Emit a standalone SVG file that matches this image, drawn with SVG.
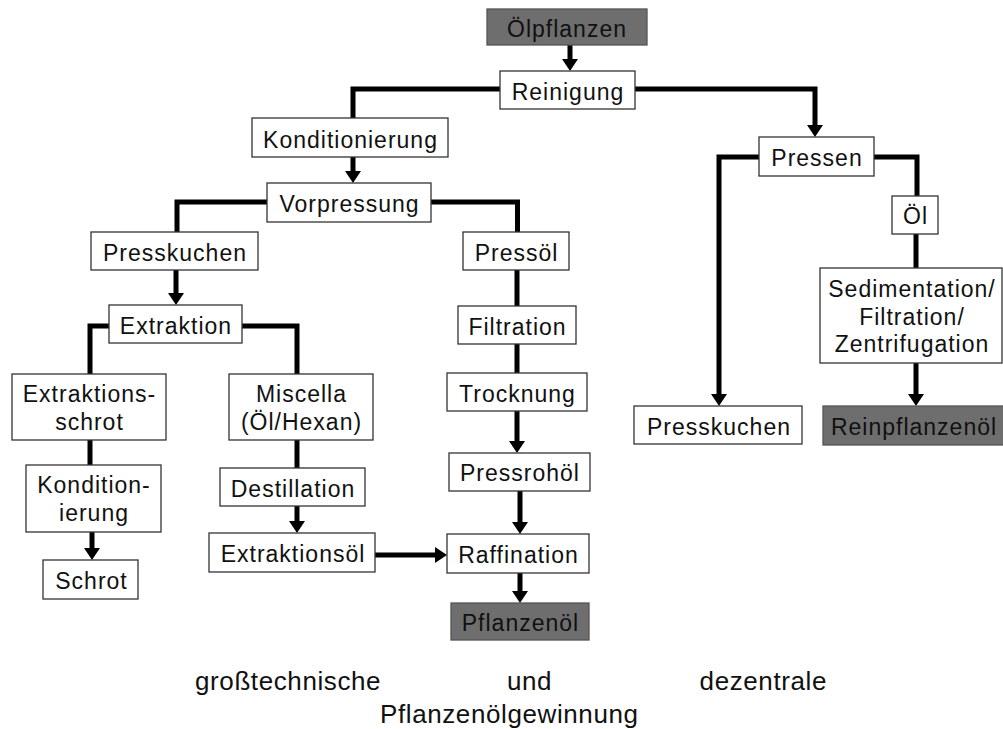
<svg xmlns="http://www.w3.org/2000/svg" width="1003" height="729" viewBox="0 0 1003 729">
<style>
  .box { fill: #ffffff; stroke: #333333; stroke-width: 1.3; }
  .dark { fill: #6e6e6e; stroke: #555555; stroke-width: 1.3; }
  .t { font-family: "Liberation Sans", Arial, sans-serif; font-size: 23px; letter-spacing: 1px; fill: #111111; text-anchor: middle; }
  .b { font-family: "Liberation Sans", Arial, sans-serif; font-size: 26px; letter-spacing: 0.6px; fill: #111111; }
  .c { fill: none; stroke: #000000; stroke-width: 5; stroke-linejoin: miter; stroke-linecap: butt; }
</style>
<defs>
  <marker id="ah" markerUnits="userSpaceOnUse" markerWidth="12" markerHeight="16" refX="0" refY="8" orient="auto" viewBox="0 0 12 16">
    <path d="M0,0 L12,8 L0,16 Z" fill="#000000"/>
  </marker>
</defs>
<rect width="1003" height="729" fill="#ffffff"/>

<g id="connectors">
  <path class="c" d="M570,45 V59" marker-end="url(#ah)"/>
  <path class="c" d="M500,89 H353 V118"/>
  <path class="c" d="M635,89 H815 V125" marker-end="url(#ah)"/>
  <path class="c" d="M353,157 V171" marker-end="url(#ah)"/>
  <path class="c" d="M267,202 H177 V232"/>
  <path class="c" d="M431,202 H517.5 V232"/>
  <path class="c" d="M176,270 V293" marker-end="url(#ah)"/>
  <path class="c" d="M109,326 H90 V374"/>
  <path class="c" d="M242,326 H297 V374"/>
  <path class="c" d="M90,440 V465"/>
  <path class="c" d="M92,532 V548" marker-end="url(#ah)"/>
  <path class="c" d="M297,440 V468"/>
  <path class="c" d="M297,506 V521" marker-end="url(#ah)"/>
  <path class="c" d="M375,555 H435" marker-end="url(#ah)"/>
  <path class="c" d="M517,270 V306"/>
  <path class="c" d="M517,344 V373"/>
  <path class="c" d="M517,411 V441" marker-end="url(#ah)"/>
  <path class="c" d="M520,491 V522" marker-end="url(#ah)"/>
  <path class="c" d="M520,573 V591" marker-end="url(#ah)"/>
  <path class="c" d="M759,157 H719 V394" marker-end="url(#ah)"/>
  <path class="c" d="M874,157 H917 V196"/>
  <path class="c" d="M916,234 V268"/>
  <path class="c" d="M916,363 V394" marker-end="url(#ah)"/>
</g>

<g id="oelpflanzen"><rect class="dark" x="487" y="9" width="160" height="36"/><text class="t" x="567" y="36.5">Ölpflanzen</text></g>
<g id="reinigung"><rect class="box" x="500" y="71" width="135" height="38"/><text class="t" x="568" y="99.5">Reinigung</text></g>
<g id="konditionierung"><rect class="box" x="252" y="118" width="196" height="39"/><text class="t" x="350.5" y="147.5">Konditionierung</text></g>
<g id="vorpressung"><rect class="box" x="267" y="183" width="164" height="39"/><text class="t" x="349.5" y="212">Vorpressung</text></g>
<g id="presskuchen-l"><rect class="box" x="91" y="232" width="167" height="38"/><text class="t" x="175" y="260.5">Presskuchen</text></g>
<g id="pressoel"><rect class="box" x="463" y="232" width="106" height="38"/><text class="t" x="516.5" y="260.5">Pressöl</text></g>
<g id="extraktion"><rect class="box" x="109" y="305" width="133" height="38"/><text class="t" x="176" y="334">Extraktion</text></g>
<g id="filtration"><rect class="box" x="458" y="306" width="118" height="38"/><text class="t" x="517.5" y="334.5">Filtration</text></g>
<g id="trocknung"><rect class="box" x="447" y="373" width="140" height="38"/><text class="t" x="517.5" y="401.5">Trocknung</text></g>
<g id="extraktionsschrot"><rect class="box" x="12" y="374" width="154" height="66"/><text class="t" x="89.5" y="401.5">Extraktions-</text><text class="t" x="89.5" y="430">schrot</text></g>
<g id="miscella"><rect class="box" x="229" y="374" width="144" height="66"/><text class="t" x="301.5" y="401.5">Miscella</text><text class="t" x="301.5" y="430">(Öl/Hexan)</text></g>
<g id="pressrohoel"><rect class="box" x="449" y="453" width="141" height="38"/><text class="t" x="520" y="481">Pressrohöl</text></g>
<g id="konditionierung-2"><rect class="box" x="26" y="465" width="135" height="67"/><text class="t" x="94" y="493">Kondition-</text><text class="t" x="94" y="521">ierung</text></g>
<g id="destillation"><rect class="box" x="220" y="468" width="145" height="38"/><text class="t" x="293" y="496.5">Destillation</text></g>
<g id="extraktionsoel"><rect class="box" x="209" y="533" width="166" height="39"/><text class="t" x="293" y="562">Extraktionsöl</text></g>
<g id="raffination"><rect class="box" x="447" y="534" width="142" height="39"/><text class="t" x="518.5" y="563">Raffination</text></g>
<g id="schrot"><rect class="box" x="43" y="560" width="95" height="39"/><text class="t" x="91.5" y="589">Schrot</text></g>
<g id="pflanzenoel"><rect class="dark" x="451" y="603" width="138" height="37"/><text class="t" x="520.5" y="631">Pflanzenöl</text></g>
<g id="pressen"><rect class="box" x="759" y="137" width="115" height="39"/><text class="t" x="817" y="166">Pressen</text></g>
<g id="oel"><rect class="box" x="892" y="196" width="46" height="38"/><text class="t" x="915.5" y="224">Öl</text></g>
<g id="sedimentation"><rect class="box" x="820" y="268" width="182" height="95"/><text class="t" x="912" y="297">Sedimentation/</text><text class="t" x="912" y="325">Filtration/</text><text class="t" x="912" y="352">Zentrifugation</text></g>
<g id="presskuchen-r"><rect class="box" x="634" y="406" width="168" height="38"/><text class="t" x="719" y="434.5">Presskuchen</text></g>
<g id="reinpflanzenoel"><rect class="dark" x="823" y="406" width="184" height="39"/><text class="t" x="914" y="435">Reinpflanzenöl</text></g>

<g id="caption">
  <text class="b" x="195" y="690">großtechnische</text>
  <text class="b" x="507" y="690">und</text>
  <text class="b" x="827" y="690" text-anchor="end">dezentrale</text>
  <text class="b" x="380" y="723">Pflanzenölgewinnung</text>
</g>
</svg>
